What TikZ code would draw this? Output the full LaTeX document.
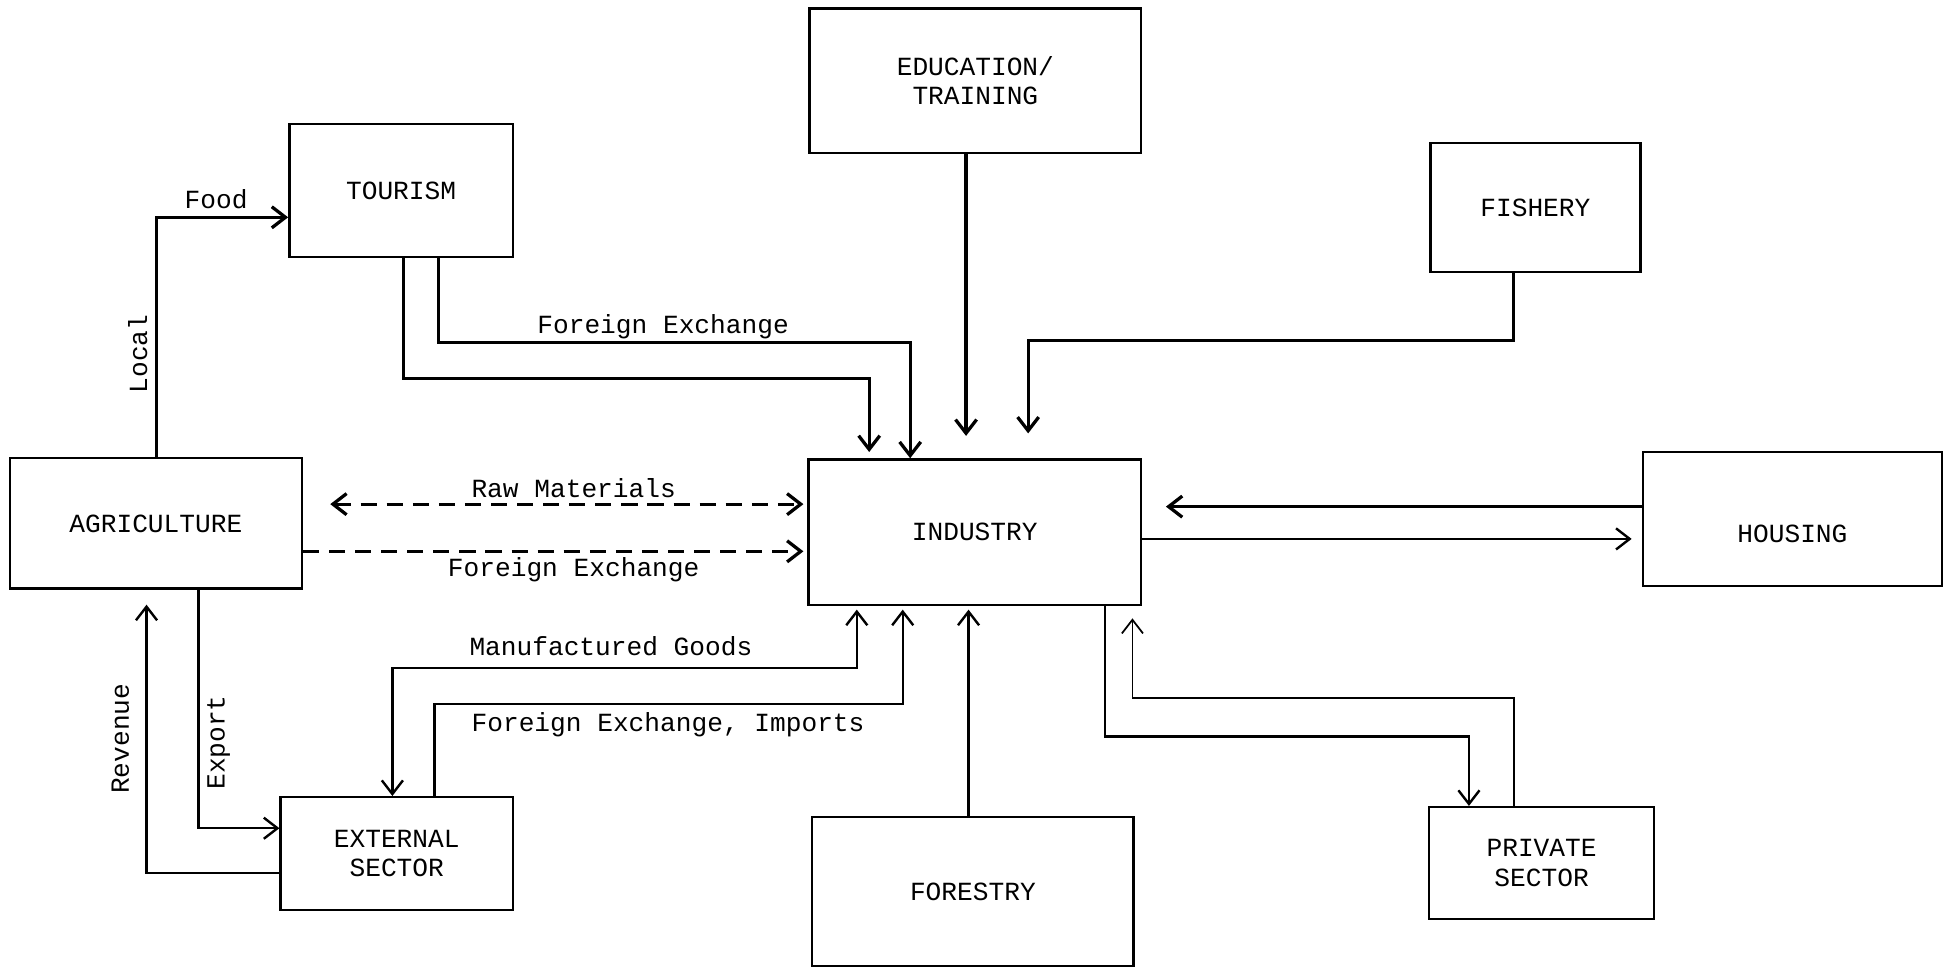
\documentclass[tikz,border=0pt]{standalone}
\usepackage{fontspec}
\setmainfont{Liberation Mono}
\usetikzlibrary{arrows.meta}

\tikzset{
    box/.style={draw, line width=1.1pt, align=center, inner sep=0pt,
        font=\fontsize{12}{13.5}\selectfont},
    flowthick/.style={line width=1.5pt},
    flow/.style={line width=1.1pt},
    flowthin/.style={line width=0.8pt},
    flowdash/.style={line width=1.5pt, dash pattern=on 2.6mm off 1.6mm},
    lbl/.style={inner sep=1pt, font=\fontsize{12}{13.5}\selectfont}
}

\begin{document}
\begin{tikzpicture}[x=0.2mm, y=-0.2mm, >={Straight Barb[length=2.2mm,width=3.4mm]}]

    \useasboundingbox (0,0) rectangle (1568,780);

    % sectors
    \node[box, minimum width=53.4mm, minimum height=23.2mm] at (785.5,65) (edu) {EDUCATION/\\TRAINING};
    \node[box, minimum width=36mm, minimum height=21.4mm] at (323,153.5) (tour) {TOURISM};
    \node[box, minimum width=33.8mm, minimum height=20.8mm] at (1236.5,167) (fish) {FISHERY};
    \node[box, minimum width=47mm, minimum height=21mm] at (125.5,421.5) (agri) {AGRICULTURE};
    \node[box, minimum width=53.6mm, minimum height=23.4mm] at (785,428.5) (ind) {INDUSTRY};
    \node[box, minimum width=48.2mm, minimum height=21.6mm, text height=7.4mm, text depth=0mm] at (1443.5,418) (hous) {HOUSING};
    \node[box, minimum width=37.4mm, minimum height=18.2mm] at (319.5,687.5) (ext) {EXTERNAL\\SECTOR};
    \node[box, minimum width=51.8mm, minimum height=24mm] at (783.5,718) (fore) {FORESTRY};
    \node[box, minimum width=36.2mm, minimum height=18mm] at (1241.5,695) (priv) {PRIVATE\\SECTOR};

    % agriculture - tourism
    \draw[flowthick,->] (126,0 |- agri.north) |- (tour.west |- 0,175);
    \node[lbl] at (174,160) (food) {Food};
    \node[lbl, rotate=90] at (111,285) (local) {Local};

    % tourism - industry
    \draw[flowthick,->, shorten >=1mm] (325,0 |- tour.south) |- (700,305) -- (700,0 |- ind.north);
    \draw[flowthick,->] (353,0 |- tour.south) |- (733,276) -- (733,0 |- ind.north);
    \node[lbl] at (534,263) (tourfx) {Foreign Exchange};

    % education, fishery
    \draw[flowthick,->, shorten >=3.6mm] (778,0 |- edu.south) -- (778,0 |- ind.north);
    \draw[flowthick,->, shorten >=4mm] (1219,0 |- fish.south) |- (828,274) -- (828,0 |- ind.north);

    % agriculture - industry
    \draw[flowdash,<->, shorten <=4.4mm, shorten >=0.6mm] (agri.east |- 0,406) -- (ind.west |- 0,406);
    \node[lbl] at (462,393) (raw) {Raw Materials};
    \draw[flowdash,->, shorten >=0.6mm] (agri.east |- 0,444) -- (ind.west |- 0,444);
    \node[lbl] at (462,459) (agrifx) {Foreign Exchange};

    % housing
    \draw[flowthick,->, shorten >=3.8mm] (hous.west |- 0,408) -- (ind.east |- 0,408);
    \draw[flow,->, shorten >=1.6mm] (ind.east |- 0,434) -- (hous.west |- 0,434);

    % external sector - industry
    \draw[flow,<->, shorten <=0.6mm] (690,0 |- ind.south) |- (316,538) -- (316,0 |- ext.north);
    \node[lbl] at (492,520) (goods) {Manufactured Goods};
    \draw[flow,->, shorten >=0.6mm] (350,0 |- ext.north) |- (727,567) -- (727,0 |- ind.south);
    \node[lbl] at (538,584) (imports) {Foreign Exchange, Imports};

    % forestry
    \draw[flow,->, shorten >=0.6mm] (780,0 |- fore.north) -- (780,0 |- ind.south);

    % private sector
    \draw[flow,->] (890,0 |- ind.south) |- (1183,593) -- (1183,0 |- priv.north);
    \draw[flowthin,->, shorten >=2mm] (1219,0 |- priv.north) |- (912,562) -- (912,0 |- ind.south);

    % agriculture - external sector
    \draw[flow,->] (160,0 |- agri.south) |- (ext.west |- 0,667);
    \node[lbl, rotate=90] at (176,598) (export) {Export};
    \draw[flow,->, shorten >=2.4mm] (ext.west |- 0,703) -| (118,0 |- agri.south);
    \node[lbl, rotate=90] at (97,595) (revenue) {Revenue};

\end{tikzpicture}
\end{document}
